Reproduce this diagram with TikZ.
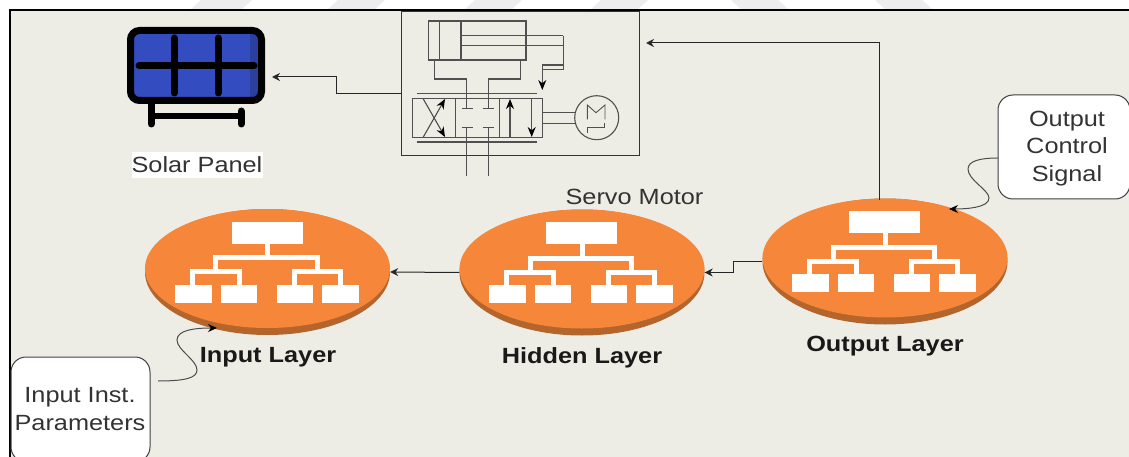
\documentclass[tikz,border=0pt]{standalone}
\usepackage{fontspec}
\setmainfont[FakeStretch=1.15]{Liberation Sans}
\usetikzlibrary{arrows.meta,shapes.geometric}
\definecolor{paper}{HTML}{EEEDE5}
\definecolor{stripe}{HTML}{EDEDED}
\definecolor{orangeface}{HTML}{F5863A}
\definecolor{orangeedge}{HTML}{B4652C}
\definecolor{panelblue}{HTML}{334CC0}
\definecolor{paneldark}{HTML}{2B3F9E}
\definecolor{hyd}{HTML}{505050}
\definecolor{txt}{HTML}{333333}
\tikzset{
  lbl/.style={font=\fontsize{22}{27.5}\selectfont,text=txt,align=center,inner sep=0pt},
  boldlbl/.style={font=\fontsize{22}{27.5}\selectfont\bfseries,text=black!90,inner sep=0pt},
  layerbase/.style={ellipse,fill=orangeedge,minimum width=245pt,minimum height=126pt,inner sep=0pt},
  layerface/.style={ellipse,fill=orangeface,minimum width=245pt,minimum height=119pt,inner sep=0pt},
  note/.style={lbl,draw=black!75,fill=white,line width=1pt,rounded corners=15pt},
  flow/.style={line width=1pt,draw=black!85,-{Stealth[length=8pt,width=8pt]}},
  curvy/.style={line width=1pt,draw=black!70,-{Stealth[length=9pt,width=8pt,black]}},
  hl/.style={draw=hyd,line width=1.1pt},
  hylamp/.style={hl,-{Stealth[length=10pt,width=8pt,black]}},
  panelstroke/.style={draw=black,line width=7pt,line cap=round},
  wire/.style={draw=white,line width=5pt},
  netmap/.pic={
    \fill[white] (-36,12) rectangle (35,34);
    \draw[wire] (0,34) -- (0,48);
    \draw[wire] (-52,62) -- (-52,48) -- (49.5,48) -- (49.5,62);
    \draw[wire] (-75.5,76) -- (-75.5,62) -- (-28.5,62) -- (-28.5,76);
    \draw[wire] (26.5,76) -- (26.5,62) -- (72.5,62) -- (72.5,76);
    \fill[white] (-93,75) rectangle (-56,93);
    \fill[white] (-47,75) rectangle (-11,93);
    \fill[white] (9,75) rectangle (45,93);
    \fill[white] (54,75) rectangle (91,93);
  }
}
\begin{document}
\begin{tikzpicture}[x=1pt,y=-1pt]
\useasboundingbox (0,0) rectangle (1129,457);
% page ground
\fill[white] (0,0) rectangle (1129,457);
\fill[stripe] (201,0) -- (252,0) -- (241,10) -- (190,10) -- cycle;
\fill[stripe] (338,0) -- (385,0) -- (374,10) -- (327,10) -- cycle;
\fill[stripe] (475,0) -- (522,0) -- (511,10) -- (464,10) -- cycle;
\fill[stripe] (601,0) -- (648,0) -- (637,10) -- (590,10) -- cycle;
\fill[stripe] (731,0) -- (778,0) -- (789,10) -- (742,10) -- cycle;
\fill[stripe] (875,0) -- (922,0) -- (933,10) -- (886,10) -- cycle;
\fill[paper] (10,10) rectangle (1129,457);
\draw[black,line width=2.2pt] (10,457) -- (10,10) -- (1129,10);

% solar panel
\node[fill=panelblue,outer sep=0pt,rounded corners=9pt,minimum width=131pt,minimum height=70pt,inner sep=0pt] (solar) at (196,65.5) {};
\fill[paneldark] (250,31) rectangle (261,100);
\draw[black,line width=7pt,rounded corners=9pt] (solar.south west) rectangle (solar.north east);
\draw[panelstroke] (139,66) -- (254,66);
\draw[panelstroke] (174,38) -- (174,93);
\draw[panelstroke] (218,38) -- (218,93);
\draw[panelstroke] (151,104) -- (151,124);
\draw[panelstroke] (241,111) -- (241,124);
\draw[draw=black,line width=6pt] (151,116) -- (241,116);
\node[lbl,fill=white,minimum width=131pt,minimum height=26pt] (solarlabel) at (197,165) {Solar Panel};
\coordinate (solarin) at (272,77);

% servo motor schematic
\node[draw=black!80,line width=1pt,minimum width=237.6pt,minimum height=144.3pt,inner sep=0pt] (servo) at (520.5,83.8) {};
\draw[hl] (428.3,21) rectangle (526,60);
\draw[hl] (439.3,21) -- (439.3,60);
\draw[hl] (461,21) -- (461,60);
\draw[hl] (461,35.7) -- (563.3,35.7);
\draw[hl] (461,45.7) -- (563.3,45.7);
\draw[hl] (563.3,35.7) -- (563.3,69.3) -- (542.3,69.3);
\draw[hl] (563.3,65) -- (542.3,65);
\draw[hylamp] (542.3,65) -- (542.3,90);
\draw[hl] (434.3,60) -- (434.3,79) -- (466.7,79) -- (466.7,108.3);
\draw[hl] (520.7,60) -- (520.7,79) -- (488.3,79) -- (488.3,108.3);
\draw[hl] (412.3,98.3) rectangle (542.3,137.3);
\draw[hl] (455.7,98.3) -- (455.7,137.3);
\draw[hl] (499.3,98.3) -- (499.3,137.3);
\draw[hl] (417.3,93.7) -- (537.3,93.7);
\draw[hl] (417.3,142) -- (537.3,142);
\draw[hylamp] (423.3,99) -- (445,137);
\draw[hylamp] (423.3,137) -- (445,99);
\draw[hl] (461.7,108.3) -- (472.7,108.3);
\draw[hl] (482.7,108.3) -- (494,108.3);
\draw[hl] (461.7,127.7) -- (472.7,127.7);
\draw[hl] (482.7,127.7) -- (494,127.7);
\draw[hl] (466.7,127.7) -- (466.7,175.7);
\draw[hl] (488.3,127.7) -- (488.3,175.7);
\draw[hylamp] (510,137.3) -- (510,99);
\draw[hylamp] (531.7,98.3) -- (531.7,137);
\draw[hl] (542.3,112.7) -- (575,112.7);
\draw[hl] (542.3,123.3) -- (575,123.3);
\draw[hl] (596.7,117.7) circle (22);
\draw[hl,line width=0.9pt] (587.3,119.3) -- (587.3,105) -- (596,112.7) -- (605,105) -- (605,119.3);
\draw[hl,line width=0.9pt] (587.3,132.7) -- (587.3,127.7) -- (604,127.7) -- (604,122.7);
\coordinate (servoin) at (646,43);
\node[lbl] (servolabel) at (634.5,197) {Servo Motor};

% layers
\node[layerbase] (output) at (885,261.5) {};
\node[layerface] (outputface) at (885,258) {};
\pic at (885,199) {netmap};
\node[layerbase] (hidden) at (582,272.5) {};
\node[layerface] (hiddenface) at (582,269) {};
\pic at (582,210) {netmap};
\node[layerbase] (input) at (267.5,272) {};
\node[layerface] (inputface) at (267.5,268.5) {};
\pic at (267.5,209.5) {netmap};
\node[boldlbl] (outputlabel) at (885,346.5) {Output Layer};
\node[boldlbl] (hiddenlabel) at (582,357.5) {Hidden Layer};
\node[boldlbl] (inputlabel) at (268,357.5) {Input Layer};

% notes
\begin{scope}
\clip (0,0) rectangle (1129,457);
\node[note,minimum width=139pt,minimum height=105pt] (innote) at (80.5,409.5) {};
\node[note,minimum width=132pt,minimum height=104pt] (outnote) at (1064,147) {};
\end{scope}
\node[lbl] (intext) at (80,409) {Input Inst.\\Parameters};
\node[lbl] (outtext) at (1067,148.5) {Output\\Control\\Signal};
\coordinate (instart) at (158,381);
\coordinate (inend) at (217,328);
\coordinate (outstart) at (998,158);
\coordinate (outend) at (949,209);
\coordinate (outtap) at (879,200);

% connectors
\draw[flow] (outtap) |- (servoin);
\draw[flow] (servo.west |- 0,94) -- (336,94) -- (336,77) -- (solarin);
\draw[flow] (hidden.west) -- (input.east);
\draw[flow] (output.west) -- ++(-29,0) |- (hidden.east);
\draw[curvy] (instart) .. controls (185,381) and (197,378) .. (197,370) .. controls (197,360) and (177,350) .. (177,340) .. controls (177,330) and (195,328) .. (inend);
\draw[curvy] (outstart) .. controls (980,158) and (968,161) .. (968,169) .. controls (968,180) and (989,190) .. (989,198) .. controls (989,208) and (965,209) .. (outend);
\end{tikzpicture}
\end{document}
